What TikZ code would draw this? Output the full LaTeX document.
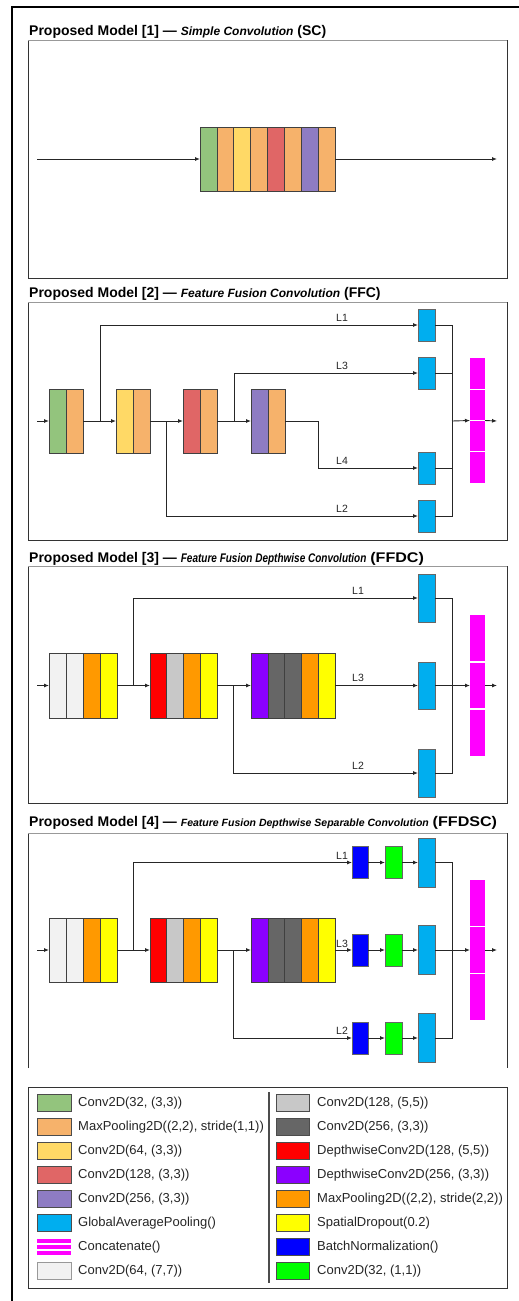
\documentclass[tikz,border=0pt]{standalone}
\usepackage{fontspec}
\setmainfont{Liberation Sans}
\usetikzlibrary{arrows.meta}
\definecolor{cGreen}{HTML}{93C47D}
\definecolor{cOrL}{HTML}{F6B26B}
\definecolor{cYelL}{HTML}{FFD966}
\definecolor{cRedL}{HTML}{E06666}
\definecolor{cPurL}{HTML}{8E7CC3}
\definecolor{cGap}{HTML}{00AEEF}
\definecolor{cCat}{HTML}{FF00FF}
\definecolor{cWhiteG}{HTML}{F2F2F2}
\definecolor{cSilver}{HTML}{C8C8C8}
\definecolor{cDark}{HTML}{666666}
\definecolor{cRed}{HTML}{FF0000}
\definecolor{cViolet}{HTML}{8B00FF}
\definecolor{cOr}{HTML}{FF9900}
\definecolor{cYel}{HTML}{FFFF00}
\definecolor{cBN}{HTML}{0000FF}
\definecolor{cCii}{HTML}{00FF00}
\newcommand\blk[6]{%
  \foreach \c [count=\i] in {#6}{%
    \node[sl, fill=\c, minimum width=#5pt, minimum height=#4pt] (#1\i) at ({#2+(\i-1)*#5},#3) {};}}
\newcommand\itt[2]{{\fontsize{#1}{#1}\selectfont\itshape #2}}
\begin{document}
\begin{tikzpicture}[x=1pt,y=-1pt,
  sl/.style={draw=black!75, line width=0.6pt, inner sep=0pt, outer sep=0pt, anchor=north west},
  gap/.style={draw=black!60, fill=cGap, line width=0.6pt, inner sep=0pt, outer sep=0pt, anchor=north west, minimum width=17pt},
  bnbox/.style={draw=black!60, fill=cBN, line width=0.6pt, inner sep=0pt, outer sep=0pt, anchor=north west, minimum width=16pt, minimum height=32pt},
  cvbox/.style={draw=black!60, fill=cCii, line width=0.6pt, inner sep=0pt, outer sep=0pt, anchor=north west, minimum width=17pt, minimum height=32pt},
  cat/.style={fill=cCat, inner sep=0pt, outer sep=0pt, anchor=north west, minimum width=15pt},
  arr/.style={line width=0.9pt, draw=black!85, -{Latex[length=5pt,width=4pt]}},
  ln/.style={line width=0.9pt, draw=black!85},
  lab/.style={font=\fontsize{10.5}{12}\selectfont, inner sep=0pt, anchor=base, text=black!85},
  ttl/.style={font=\fontsize{14}{16}\selectfont\bfseries, inner sep=0pt, anchor=base west},
  leg/.style={font=\fontsize{13}{15}\selectfont, inner sep=0pt, anchor=west, text=black!85},
  sw/.style={draw=black!70, line width=0.6pt, inner sep=0pt, outer sep=0pt, anchor=west, minimum width=34pt, minimum height=16.5pt},
  pframe/.style={draw=black!80, line width=0.9pt},
  ptop/.style={draw=black!40, line width=0.9pt}]
\useasboundingbox (0,0) rectangle (519,1301);
\fill[white] (0,0) rectangle (519,1301);
% outer frame
\draw[black, line width=1.4pt] (519,7) -- (12,7) -- (12,1301);

% ================= Panel 1 =================
\node[ttl] (t1) at (29,35.7) {Proposed Model [1] — \itt{12}{Simple Convolution} (SC)};
\draw[pframe] (28,40) -- (28,278) -- (507,278) -- (507,40);
\draw[ptop] (28,40) -- (507,40);
\foreach \c [count=\i] in {cGreen,cOrL,cYelL,cOrL,cRedL,cOrL,cPurL,cOrL}
  \node[sl, fill=\c, minimum width=16.875pt, minimum height=64pt] (s\i) at ({200+(\i-1)*16.875},127) {};
\coordinate (sin) at (37,159);
\coordinate (sout) at (497,159);
\draw[arr] (sin) -- (s1.west);
\draw[arr] (s8.east) -- (sout);

% ================= Panel 2 =================
\node[ttl] (t2) at (29,297) {Proposed Model [2] — \itt{12}{Feature Fusion Convolution} (FFC)};
\draw[pframe] (28,302) -- (28,540) -- (507,540) -- (507,302);
\draw[ptop] (28,302) -- (507,302);
\blk{pa}{49}{389}{64}{17}{cGreen,cOrL}
\blk{pb}{116}{389}{64}{17}{cYelL,cOrL}
\blk{pc}{183}{389}{64}{17}{cRedL,cOrL}
\blk{pd}{251}{389}{64}{17}{cPurL,cOrL}
\node[gap, minimum height=32pt] (qg1) at (418,309) {};
\node[gap, minimum height=32pt] (qg3) at (418,357) {};
\node[gap, minimum height=32pt] (qg4) at (418,452) {};
\node[gap, minimum height=32pt] (qg2) at (418,500) {};
\node[cat, minimum height=125pt] (qk) at (470,358) {};
\foreach \k in {1,2,3} \draw[white, line width=1.2pt] (470,{358+31.25*\k}) -- (485,{358+31.25*\k});
\coordinate (qin) at (37,421);
\draw[arr] (qin) -- (pa1.west);
\draw[arr] (pa2.east) -- (pb1.west);
\draw[arr] (pb2.east) -- (pc1.west);
\draw[arr] (pc2.east) -- (pd1.west);
\coordinate (qj1) at (100,421);
\coordinate (qj2) at (166,421);
\coordinate (qj3) at (234,421);
\coordinate (qj4) at (318,421);
\draw[arr] (qj1) |- (qg1.west);
\draw[arr] (qj2) |- (qg2.west);
\draw[arr] (qj3) |- (qg3.west);
\draw[arr] (pd2.east) -- (qj4) |- (qg4.west);
\coordinate (qc) at (452,421);
\foreach \g in {qg1,qg2,qg3,qg4} \draw[ln] (\g.east) -| (qc);
\draw[arr] (qc) -- (qk.west);
\coordinate (qout) at (497,421);
\draw[arr] (qk.east) -- (qout);
\node[lab] (ql1) at (342,321) {L1};
\node[lab] (ql3) at (342,369) {L3};
\node[lab] (ql4) at (342,464) {L4};
\node[lab] (ql2) at (342,512) {L2};

% ================= Panel 3 =================
\node[ttl] (t3) at (29,562) {Proposed Model [3] — \itt{12.5}{\scalebox{0.8}[1]{Feature Fusion Depthwise Convolution}} \scalebox{1.15}[1]{(FFDC)}};
\draw[pframe] (28,566) -- (28,803) -- (507,803) -- (507,566);
\draw[ptop] (28,566) -- (507,566);
\blk{ra}{49}{653}{65}{17}{cWhiteG,cWhiteG,cOr,cYel}
\blk{rb}{150}{653}{65}{16.75}{cRed,cSilver,cOr,cYel}
\blk{rc}{251}{653}{65}{16.8}{cViolet,cDark,cDark,cOr,cYel}
\node[gap, minimum height=48pt] (rg1) at (418,574) {};
\node[gap, minimum height=47pt] (rg3) at (418,662) {};
\node[gap, minimum height=48pt] (rg2) at (418,749) {};
\node[cat, minimum height=141pt] (rk) at (470,615) {};
\foreach \k in {1,2} \draw[white, line width=1.2pt] (470,{615+47*\k}) -- (485,{615+47*\k});
\coordinate (rin) at (37,685.5);
\draw[arr] (rin) -- (ra1.west);
\draw[arr] (ra4.east) -- (rb1.west);
\draw[arr] (rb4.east) -- (rc1.west);
\draw[arr] (rc5.east) -- (rg3.west);
\coordinate (rj1) at (133,685.5);
\coordinate (rj2) at (233,685.5);
\draw[arr] (rj1) |- (rg1.west);
\draw[arr] (rj2) |- (rg2.west);
\coordinate (rcx) at (452,685.5);
\foreach \g in {rg1,rg2,rg3} \draw[ln] (\g.east) -| (rcx);
\draw[arr] (rcx) -- (rk.west);
\coordinate (rout) at (497,685.5);
\draw[arr] (rk.east) -- (rout);
\node[lab] (rl1) at (358,594) {L1};
\node[lab] (rl3) at (358,681) {L3};
\node[lab] (rl2) at (358,769) {L2};

% ================= Panel 4 =================
\node[ttl] (t4) at (29,826) {Proposed Model [4] — \itt{10.5}{Feature Fusion Depthwise Separable Convolution} \scalebox{1.15}[1]{(FFDSC)}};
\draw[pframe] (28,1068) -- (28,833);
\draw[pframe] (507,833) -- (507,1068);
\draw[ptop] (28,833) -- (507,833);
\blk{ua}{49}{918}{64}{17}{cWhiteG,cWhiteG,cOr,cYel}
\blk{ub}{150}{918}{64}{16.75}{cRed,cSilver,cOr,cYel}
\blk{uc}{251}{918}{64}{16.8}{cViolet,cDark,cDark,cOr,cYel}
\node[bnbox] (un1) at (352,846.5) {};
\node[bnbox] (un3) at (352,934) {};
\node[bnbox] (un2) at (352,1022) {};
\node[cvbox] (ue1) at (385,846.5) {};
\node[cvbox] (ue3) at (385,934) {};
\node[cvbox] (ue2) at (385,1022) {};
\node[gap, minimum height=49pt] (ug1) at (418,838) {};
\node[gap, minimum height=49pt] (ug3) at (418,925.5) {};
\node[gap, minimum height=49pt] (ug2) at (418,1013.5) {};
\node[cat, minimum height=140pt] (uk) at (470,880) {};
\foreach \k in {1,2} \draw[white, line width=1.2pt] (470,{880+46.67*\k}) -- (485,{880+46.67*\k});
\coordinate (uin) at (37,950);
\draw[arr] (uin) -- (ua1.west);
\draw[arr] (ua4.east) -- (ub1.west);
\draw[arr] (ub4.east) -- (uc1.west);
\draw[arr] (uc5.east) -- (un3.west);
\coordinate (uj1) at (133,950);
\coordinate (uj2) at (233,950);
\draw[arr] (uj1) |- (un1.west);
\draw[arr] (uj2) |- (un2.west);
\foreach \r in {1,2,3} {
  \draw[arr] (un\r.east) -- (ue\r.west);
  \draw[arr] (ue\r.east) -- (ug\r.west);
}
\coordinate (ucx) at (452,950);
\foreach \g in {ug1,ug2,ug3} \draw[ln] (\g.east) -| (ucx);
\draw[arr] (ucx) -- (uk.west);
\coordinate (uout) at (497,950);
\draw[arr] (uk.east) -- (uout);
\node[lab] (ul1) at (342,859) {L1};
\node[lab] (ul3) at (342,947) {L3};
\node[lab] (ul2) at (342,1034) {L2};

% ================= Legend =================
\draw[pframe] (28,1087) rectangle (507,1288);
\draw[black!70, line width=1.2pt] (269,1092) -- (269,1283);
\foreach \c/\t [count=\i from 0] in {cGreen/{Conv2D(32, (3,3))}, cOrL/{MaxPooling2D((2,2), stride(1,1))}, cYelL/{Conv2D(64, (3,3))}, cRedL/{Conv2D(128, (3,3))}, cPurL/{Conv2D(256, (3,3))}, cGap/{GlobalAveragePooling()}}{
  \node[sw, fill=\c] (lsw\i) at (37,{1102.7+24*\i}) {};
  \node[leg] (ltx\i) at (78,{1102.7+24*\i}) {\t};
}
\node[inner sep=0pt, outer sep=0pt, anchor=west, minimum width=34pt, minimum height=16.5pt] (lsw6) at (37,1246.7) {};
\fill[cCat] (37,1239.2) rectangle (71,1243.2);
\fill[cCat] (37,1244.9) rectangle (71,1248.9);
\fill[cCat] (37,1250.6) rectangle (71,1254.6);
\node[leg] (ltx6) at (78,1246.7) {Concatenate()};
\node[sw, fill=cWhiteG, draw=black!40] (lsw7) at (37,1270.7) {};
\node[leg] (ltx7) at (78,1270.7) {Conv2D(64, (7,7))};
\foreach \c/\t [count=\i from 0] in {cSilver/{Conv2D(128, (5,5))}, cDark/{Conv2D(256, (3,3))}, cRed/{DepthwiseConv2D(128, (5,5))}, cViolet/{DepthwiseConv2D(256, (3,3))}, cOr/{MaxPooling2D((2,2), stride(2,2))}, cYel/{SpatialDropout(0.2)}, cBN/{BatchNormalization()}, cCii/{Conv2D(32, (1,1))}}{
  \node[sw, fill=\c, minimum width=33pt] (rsw\i) at (276,{1102.7+24*\i}) {};
  \node[leg] (rtx\i) at (317,{1102.7+24*\i}) {\t};
}
\end{tikzpicture}
\end{document}
